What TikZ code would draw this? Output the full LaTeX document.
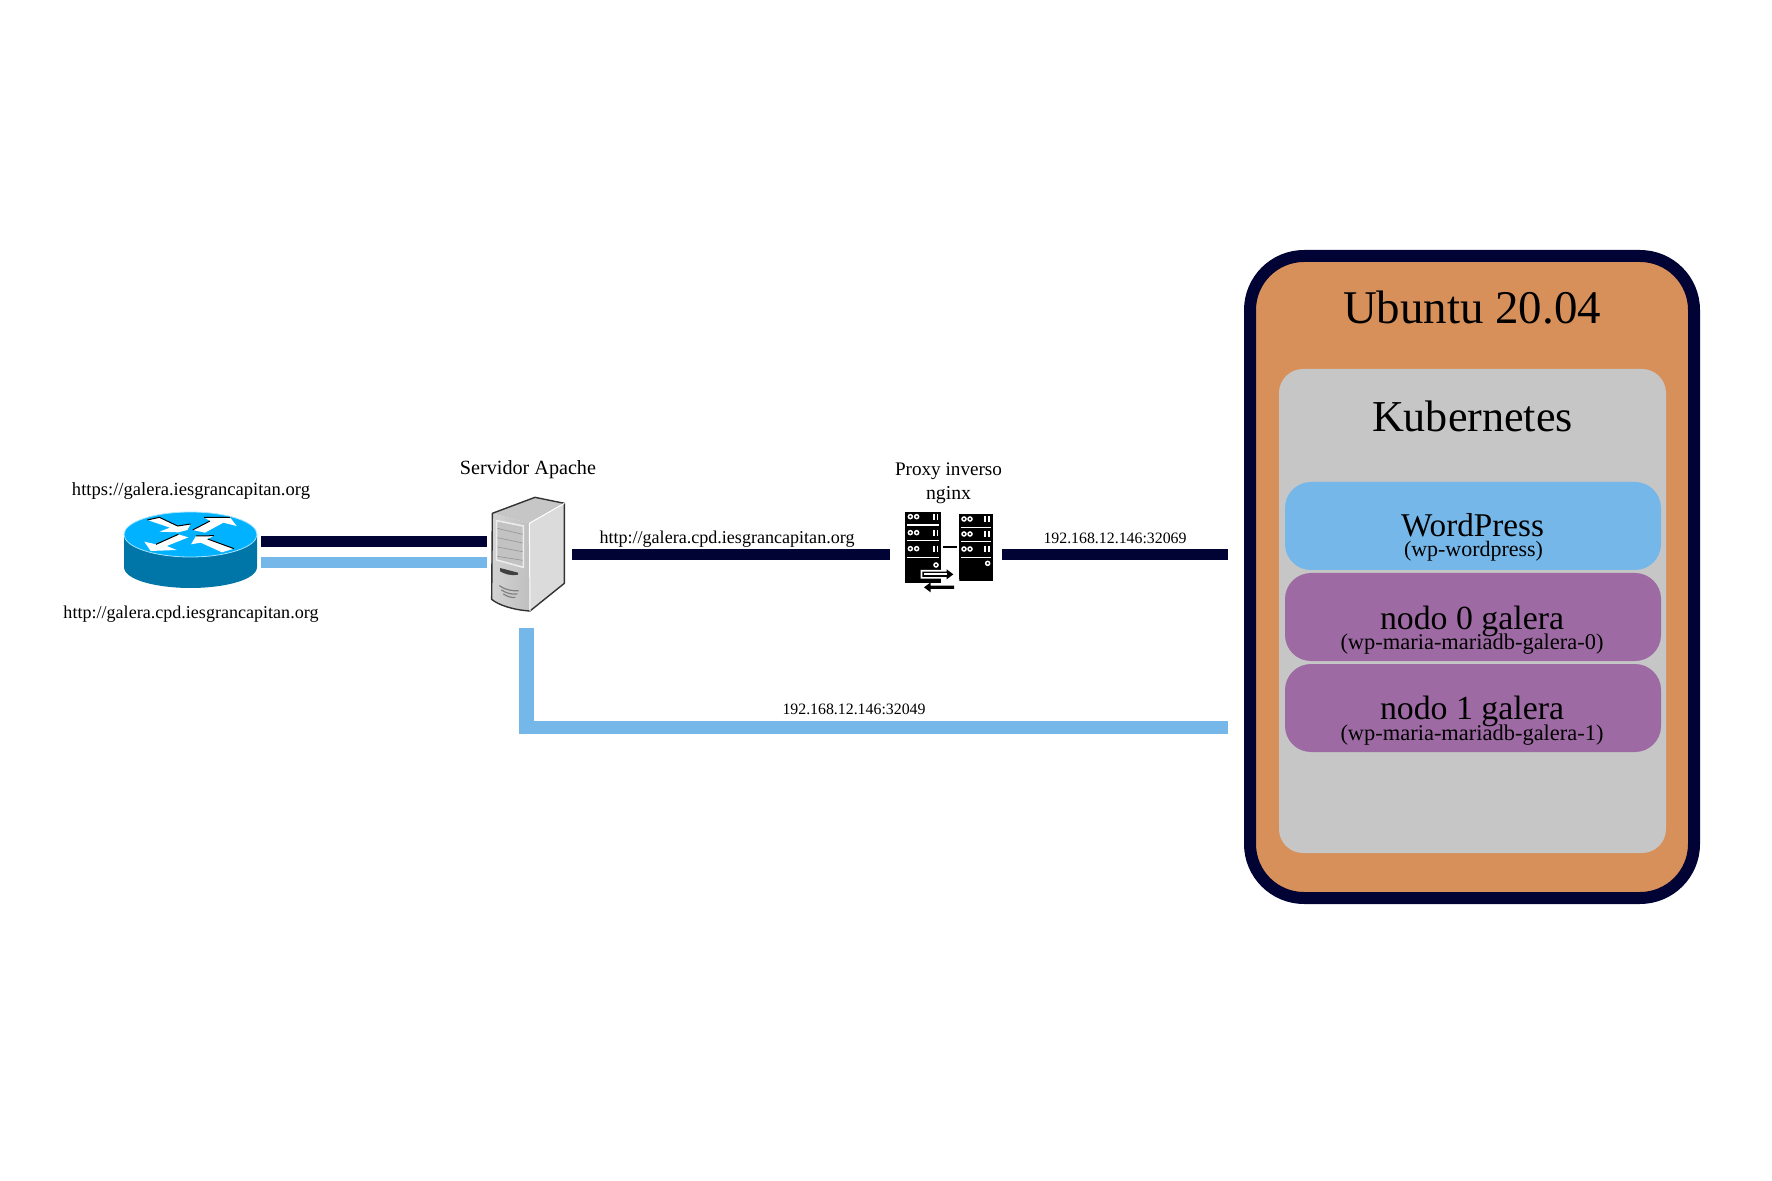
\documentclass[tikz,border=0pt]{standalone}
\usepackage{fontspec}
\usepackage{graphicx}
\setmainfont{Liberation Serif}
\newdimen\pxu \pxu=0.5pt
\newcommand{\lab}[5]{\node[lbl] (#1) at (#2,#3) {\resizebox{#4\pxu}{!}{#5}};}
\definecolor{navy}{HTML}{020335}
\definecolor{sky}{HTML}{75B7E8}
\definecolor{orng}{HTML}{D8905A}
\definecolor{kgray}{HTML}{C6C6C6}
\definecolor{purp}{HTML}{9E6AA3}
\definecolor{rtop}{HTML}{00B2FF}
\definecolor{rside}{HTML}{0075A8}
\tikzset{
  lbl/.style={anchor=base,inner sep=0pt,outer sep=0pt,text=black},
  panel/.style={rectangle,outer sep=0pt,inner sep=0pt},
  navyline/.style={draw=navy,line width=5.5pt},
  skyline/.style={draw=sky,line width=5.5pt},
  skyrise/.style={draw=sky,line width=7.5pt},
  skyrun/.style={draw=sky,line width=6.25pt},
  rarrow/.style={fill=white,draw=none},
  rshade/.style={draw=black,line width=0.5pt},
  rackline/.style={draw=white,line width=0.6pt},
  rackdot/.style={draw=white,line width=0.75pt,fill=black},
  rackbar/.style={draw=white,line width=0.8pt},
}
\begin{document}
\begin{tikzpicture}[x=0.5pt,y=-0.5pt]
\useasboundingbox[fill=white] (0,0) rectangle (1772,1181);
% Ubuntu + Kubernetes panels
\node[panel,fill=orng,draw=navy,line width=6pt,rounded corners=27pt,minimum width=222pt,minimum height=321pt] (ubuntu) at (1472,577) {};
\node[panel,fill=kgray,rounded corners=12pt,minimum width=193.5pt,minimum height=242pt] (kube) at (1472.5,611) {};
\node[panel,fill=sky,rounded corners=13pt,minimum width=188pt,minimum height=44pt] (wp) at (1473,526) {};
\node[panel,fill=purp,rounded corners=13pt,minimum width=188pt,minimum height=44pt] (n0) at (1473,617) {};
\node[panel,fill=purp,rounded corners=13pt,minimum width=188pt,minimum height=44pt] (n1) at (1473,708) {};
\lab{tubuntu}{1472}{324}{258}{Ubuntu 20.04}
\lab{tkube}{1472.5}{432}{201}{Kubernetes}
\lab{twp}{1472.5}{537}{143}{WordPress}
\lab{twps}{1473.5}{557}{139}{(wp-wordpress)}
\lab{tn0}{1472}{629.5}{184}{nodo 0 galera}
\lab{tn0s}{1472}{649}{263}{(wp-maria-mariadb-galera-0)}
\lab{tn1}{1472}{719}{184}{nodo 1 galera}
\lab{tn1s}{1472}{740}{263}{(wp-maria-mariadb-galera-1)}
% connector end points
\coordinate (ra) at (261,541.5);
\coordinate (sa) at (487,541.5);
\coordinate (rb) at (261,562.5);
\coordinate (sb) at (487,562.5);
\coordinate (sc) at (572,554.5);
\coordinate (pa) at (890,554.5);
\coordinate (pb) at (1001.5,554.5);
\coordinate (ua) at (1228,554.5);
\coordinate (sd) at (526.5,628);
\coordinate (be) at (526.5,733.75);
\coordinate (bf) at (519,727.5);
\coordinate (ub) at (1228,727.5);
\draw[navyline] (ra) -- (sa);
\draw[skyline] (rb) -- (sb);
\draw[navyline] (sc) -- (pa);
\draw[navyline] (pb) -- (ua);
\draw[skyrise] (sd) -- (be);
\draw[skyrun] (bf) -- (ub);
% texts
\lab{thttps}{191}{495.5}{238}{https://galera.iesgrancapitan.org}
\lab{thttp}{191}{618}{255}{http://galera.cpd.iesgrancapitan.org}
\lab{tapache}{528}{475}{136}{Servidor Apache}
\lab{tmid}{727}{544}{255}{http://galera.cpd.iesgrancapitan.org}
\lab{tpx}{948.5}{476}{107}{Proxy inverso}
\lab{tng}{948.5}{500}{45}{nginx}
\lab{tp1}{1115}{544}{143}{192.168.12.146:32069}
\lab{tp2}{854}{714}{143}{192.168.12.146:32049}
% router
\path[fill=rside] (124,535) -- (124,567) .. controls (124,580) and (157,588) .. (190.5,588) .. controls (224,588) and (257,580) .. (257,567) -- (257,535) -- cycle;
\path[fill=rtop,draw=rtop!35!white,line width=0.4pt] (190.5,534.5) circle[x radius=66.5,y radius=22.5];
\begin{scope}[shift={(110,500)},scale=1/3]
\path[rarrow] (112,60) -- (148,52) -- (203,78) -- (242,72) -- (232,90) -- (205,97) -- (148,95) -- (180,83) -- cycle;
\path[rshade] (112,60) -- (148,52) -- (203,78) -- (242,72);
\path[rarrow] (248,90) -- (300,63) -- (282,52) -- (360,52) -- (380,78) -- (340,68) -- (285,98) -- cycle;
\path[rshade] (248,90) -- (300,63) (282,52) -- (360,52);
\path[rarrow] (205,103) -- (235,112) -- (170,138) -- (200,150) -- (122,153) -- (103,125) -- (138,133) -- cycle;
\path[rshade] (138,133) -- (205,103);
\path[rarrow] (243,133) -- (258,108) -- (312,107) -- (293,117) -- (372,146) -- (336,157) -- (272,128) -- cycle;
\path[rshade] (258,108) -- (312,107) (293,117) -- (372,146);
\end{scope}
% server
\begin{scope}[shift={(460,480)},scale=1/3]
\path[fill=gray!45] (97,100) -- (225,52) -- (313,70) -- (208,130) -- cycle;
\path[left color=gray!35,right color=gray!50,draw=none] (97,100) -- (208,130) -- (210,393) .. controls (160,390) and (115,375) .. (95,358) -- cycle;
\path[fill=gray!28] (208,130) -- (313,70) -- (313,310) -- (210,393) -- cycle;
\path[fill=gray!48,draw=gray!15,line width=0.8pt] (110,122) -- (190,138) -- (190,262) -- (110,240) -- cycle;
\foreach \y in {0,1,2,3}{
  \draw[gray!80,line width=0.35pt] (112,{145+\y*28}) -- (188,{163+\y*26});
}
\path[fill=black!75] (120,264) -- (174,278) -- (174,284) .. controls (150,288) and (135,282) .. (120,274) -- cycle;
\draw[gray,line width=0.6pt] (118,317) .. controls (135,330) and (160,334) .. (176,332);
\draw[gray,line width=0.6pt] (124,330) .. controls (140,340) and (155,344) .. (172,342);
\draw[gray,line width=0.6pt] (130,342) .. controls (142,350) and (155,354) .. (166,352);
\draw[black!80,line width=0.7pt,line join=round] (97,100) -- (225,52) -- (313,70) -- (313,310) -- (210,393) .. controls (160,390) and (115,375) .. (95,358) -- cycle;
\draw[white,line width=0.5pt] (208,130) -- (313,70) (208,130) -- (210,393);
\end{scope}
% proxy icon
\begin{scope}[shift={(880,450)},scale=1/3]
\path[fill=black] (75,185) -- (183,185) -- (183,400) -- (75,400) -- cycle;
\path[fill=black] (238,193) -- (338,193) -- (338,392) -- (238,392) -- cycle;
\foreach \y in {225,272,322} \draw[rackline] (80,\y) -- (178,\y);
\foreach \y in {200,248,296}{
  \draw[rackdot] (91,\y) circle[radius=6];
  \draw[rackdot] (110,\y) circle[radius=6];
  \draw[rackbar] (162,{\y-9}) -- (162,{\y+9});
  \draw[rackbar] (172,{\y-9}) -- (172,{\y+9});
}
\draw[rackdot] (168,345) circle[radius=6];
\foreach \y in {232,275,322} \draw[rackline] (242,\y) -- (334,\y);
\foreach \y in {207,252,297}{
  \draw[rackdot] (252,\y) circle[radius=6];
  \draw[rackdot] (270,\y) circle[radius=6];
  \draw[rackbar] (315,{\y-9}) -- (315,{\y+9});
  \draw[rackbar] (327,{\y-9}) -- (327,{\y+9});
}
\draw[rackdot] (323,340) circle[radius=6];
\draw[black,line width=0.9pt] (190,292) -- (230,292);
% arrows
\path[fill=white] (122,360) -- (202,360) -- (202,388) -- (238,388) -- (238,430) -- (130,430) -- (130,400) -- (183,400) -- (183,386) -- (122,386) -- cycle;
\path[fill=black] (127,365) -- (200,365) -- (200,358) -- (220,373) -- (200,388) -- (200,381) -- (127,381) -- cycle;
\path[fill=white] (131,369.5) -- (200,369.5) -- (200,376.5) -- (131,376.5) -- cycle;
\path[fill=black] (222,407) -- (152,407) -- (152,397) -- (132,412) -- (152,427) -- (152,417) -- (222,417) -- cycle;
\end{scope}
\end{tikzpicture}
\end{document}
